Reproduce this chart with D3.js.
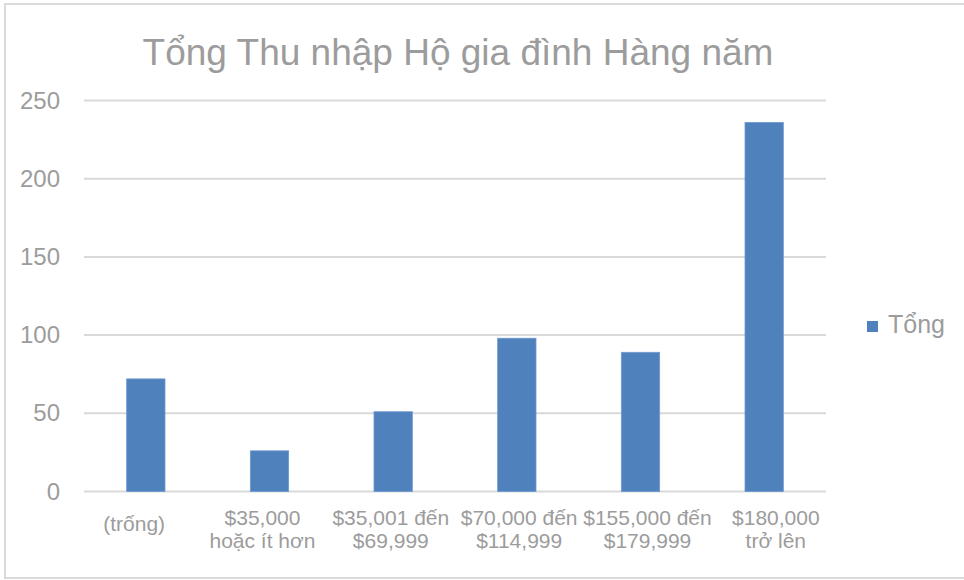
<!DOCTYPE html>
<html>
<head>
<meta charset="utf-8">
<script src="https://cdn.jsdelivr.net/npm/d3@7"></script>
<style>
  html, body { margin: 0; padding: 0; background: #ffffff; }
  svg { display: block; font-family: "Liberation Sans", Arial, sans-serif; }
</style>
</head>
<body>
<svg id="chart" width="964" height="580"></svg>
<script>
const title = "Tổng Thu nhập Hộ gia đình Hàng năm";
const seriesName = "Tổng";
const categories = [
  ["(trống)"],
  ["$35,000", "hoặc ít hơn"],
  ["$35,001 đến", "$69,999"],
  ["$70,000 đến", "$114,999"],
  ["$155,000 đến", "$179,999"],
  ["$180,000", "trở lên"]
];
const values = [72, 26, 51, 98, 89, 236];
const yTicks = [0, 50, 100, 150, 200, 250];

const svg = d3.select("#chart");
const textColor = "#9c9c9c";
const gridColor = "#d9d9d9";
const barColor = "#4f81bd";

// chart border
svg.append("rect")
  .attr("x", 5).attr("y", 4).attr("width", 980).attr("height", 574)
  .attr("fill", "none").attr("stroke", "#d9d9d9").attr("stroke-width", 2);

const keys = categories.map((c, i) => i);
const x = d3.scaleBand().domain(keys).range([84, 826]).paddingInner(0.69).paddingOuter(0.345);
const xLabel = d3.scaleBand().domain(keys).range([70, 840]);
const y = d3.scaleLinear().domain([0, 250]).range([491.5, 100.5]);

// gridlines
svg.append("g").selectAll("line").data(yTicks).join("line")
  .attr("x1", 84).attr("x2", 826)
  .attr("y1", d => y(d)).attr("y2", d => y(d))
  .attr("stroke", gridColor).attr("stroke-width", 2);

// y axis labels
const yAxis = d3.axisLeft(y).tickValues(yTicks).tickSize(0).tickPadding(0);
const yg = svg.append("g").attr("transform", "translate(60,0)").call(yAxis);
yg.select(".domain").remove();
yg.selectAll("text")
  .attr("fill", textColor)
  .style("font-size", "24px")
  .style("font-family", "Liberation Sans, Arial, sans-serif");

// bars
svg.append("g").selectAll("rect").data(values).join("rect")
  .attr("x", (d, i) => x(i))
  .attr("width", x.bandwidth())
  .attr("y", d => y(d))
  .attr("height", d => y(0) - y(d))
  .attr("fill", barColor)
  .attr("stroke", "#6f9ad0").attr("stroke-width", 0.8);

// x labels
const xl = svg.append("g").selectAll("text").data(categories).join("text")
  .attr("text-anchor", "middle")
  .attr("fill", textColor)
  .style("font-size", "21px")
  .attr("x", (d, i) => xLabel(i) + xLabel.bandwidth() / 2)
  .attr("y", d => d.length === 1 ? 531 : 525);
xl.each(function(d, i) {
  const t = d3.select(this);
  d.forEach((line, j) => {
    t.append("tspan")
      .attr("x", xLabel(i) + xLabel.bandwidth() / 2)
      .attr("dy", j === 0 ? 0 : 23)
      .text(line);
  });
});

// title
svg.append("text")
  .attr("x", 458).attr("y", 65)
  .attr("text-anchor", "middle")
  .attr("fill", textColor)
  .style("font-size", "37px")
  .text(title);

// legend
svg.append("rect").attr("x", 867).attr("y", 321).attr("width", 11).attr("height", 11).attr("fill", barColor);
svg.append("text").attr("x", 888).attr("y", 333)
  .attr("fill", textColor).style("font-size", "25px").text(seriesName);
</script>
</body>
</html>
